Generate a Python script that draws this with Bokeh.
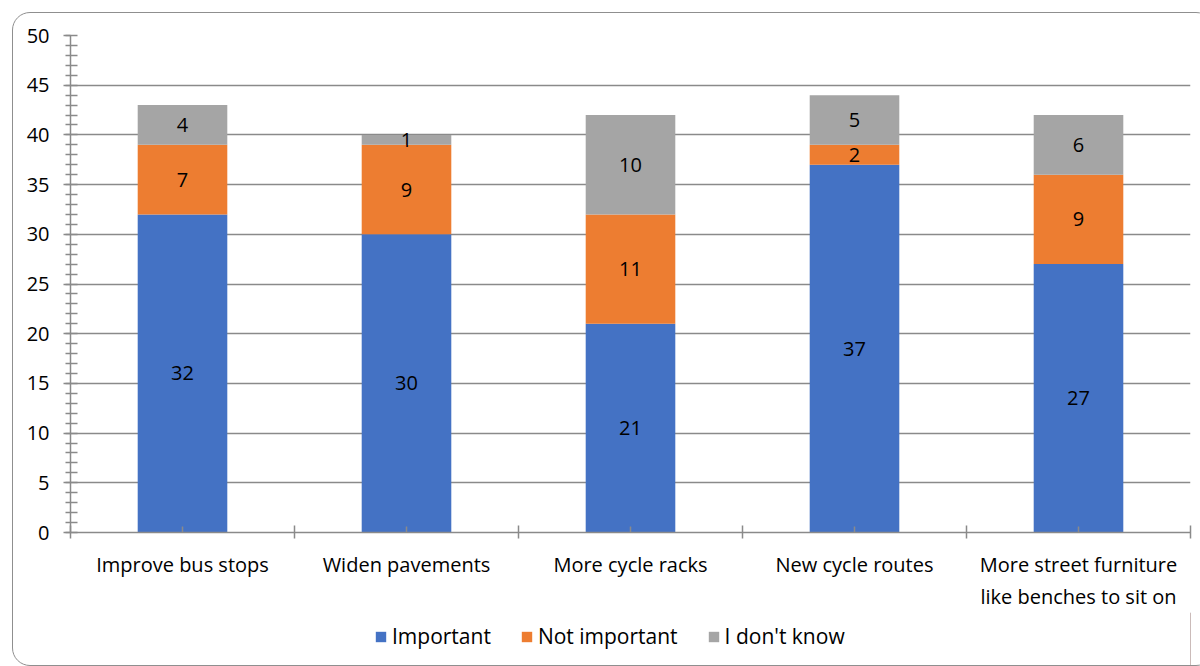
import numpy as np
from bokeh.plotting import figure
from bokeh.layouts import column
from bokeh.models import (ColumnDataSource, FixedTicker, Legend, LegendItem,
                          LabelSet, Range1d, InlineStyleSheet)
from bokeh.core.properties import value
from bokeh.embed import file_html
from bokeh.resources import INLINE

categories = ["Improve bus stops", "Widen pavements", "More cycle racks",
              "New cycle routes", "More street furniture\nlike benches to sit on"]
important = [32, 30, 21, 37, 27]
not_important = [7, 9, 11, 2, 9]
dont_know = [4, 1, 10, 5, 6]
series_names = ["Important", "Not important", "I don't know"]
colors = ["#4472C4", "#ED7D31", "#A5A5A5"]
y_ticks = list(range(0, 51, 5))

FONT = "Open Sans"
FS = "20px"
GRID = "#8a8a8a"

n = len(categories)
xs = np.arange(n) + 0.5

src = ColumnDataSource(dict(x=xs, imp=important, nimp=not_important, dk=dont_know))

p = figure(width=1200, height=612, output_backend="svg", toolbar_location=None,
           x_range=Range1d(0, n), y_range=Range1d(0, 50),
           min_border_left=70, min_border_right=10, min_border_top=35,
           min_border_bottom=80)
p.outline_line_color = None
p.background_fill_alpha = 0
p.border_fill_alpha = 0

renderers = p.vbar_stack(["imp", "nimp", "dk"], x="x", width=0.4, color=colors,
                         line_color=None, source=src)

# data labels
stacks = [important, not_important, dont_know]
bottom = np.zeros(n)
for vals in stacks:
    v = np.array(vals, dtype=float)
    mid = bottom + v / 2
    ls = ColumnDataSource(dict(x=xs, y=mid, t=[str(int(a)) for a in v]))
    p.add_layout(LabelSet(x="x", y="y", text="t", source=ls,
                          text_align="center", text_baseline="middle",
                          text_font=value(FONT), text_font_size=FS,
                          text_color="#000000"))
    bottom = bottom + v

# x axis
xa = p.xaxis[0]
xa.ticker = FixedTicker(ticks=list(xs), minor_ticks=list(range(0, n + 1)))
xa.major_label_overrides = {float(x): c for x, c in zip(xs, categories)}
xa.major_label_text_font = FONT
xa.major_label_text_font_size = FS
xa.major_label_text_color = "#000000"
xa.major_label_standoff = 12
xa.axis_line_color = GRID
xa.axis_line_width = 1.5
xa.major_tick_line_color = GRID
xa.major_tick_line_width = 1.5
xa.major_tick_in = 6
xa.major_tick_out = 0
xa.minor_tick_line_color = GRID
xa.minor_tick_line_width = 1.5
xa.minor_tick_in = 7
xa.minor_tick_out = 6

# y axis
ya = p.yaxis[0]
ya.ticker = FixedTicker(ticks=y_ticks, minor_ticks=list(range(0, 51)))
ya.major_label_text_font = FONT
ya.major_label_text_font_size = FS
ya.major_label_text_color = "#000000"
ya.major_label_standoff = 14
ya.axis_line_color = GRID
ya.axis_line_width = 1.5
ya.major_tick_line_color = GRID
ya.major_tick_line_width = 1.5
ya.major_tick_in = 0
ya.major_tick_out = 7
ya.minor_tick_line_color = GRID
ya.minor_tick_line_width = 1.5
ya.minor_tick_in = 7
ya.minor_tick_out = 5

p.xgrid.grid_line_color = None
p.ygrid.grid_line_color = GRID
p.ygrid.grid_line_width = 1.5
p.ygrid.ticker = FixedTicker(ticks=y_ticks)

# legend strip below the chart (swatch renderers sit outside the visible range)
lp = figure(width=1200, height=54, output_backend="svg", toolbar_location=None,
            x_range=Range1d(0, 1), y_range=Range1d(0, 1), min_border=0)
lp.axis.visible = False
lp.grid.visible = False
lp.outline_line_color = None
lp.background_fill_alpha = 0
lp.border_fill_alpha = 0
dummies = [lp.vbar(x=[5], top=[1], width=0.1, color=c, line_color=None) for c in colors]
legend = Legend(items=[LegendItem(label=nm, renderers=[r]) for nm, r in zip(series_names, dummies)],
                orientation="horizontal", location=(304, 16),
                label_text_font=FONT, label_text_font_size="21px",
                label_text_color="#000000", glyph_width=13, glyph_height=13,
                spacing=29, label_standoff=5, border_line_color=None,
                background_fill_alpha=0, margin=0, padding=0)
lp.add_layout(legend, "center")

layout = column(p, lp, spacing=0)
layout.stylesheets = [InlineStyleSheet(css="""
:host { position: relative; overflow: visible; }
:host::after {
  content: ''; position: absolute; left: 12px; top: 12px; width: 1200px; height: 652px;
  border: 1.5px solid #8f8f8f; border-radius: 18px; pointer-events: none;
}
""")]

open("out.html", "w").write(file_html(layout, INLINE))
